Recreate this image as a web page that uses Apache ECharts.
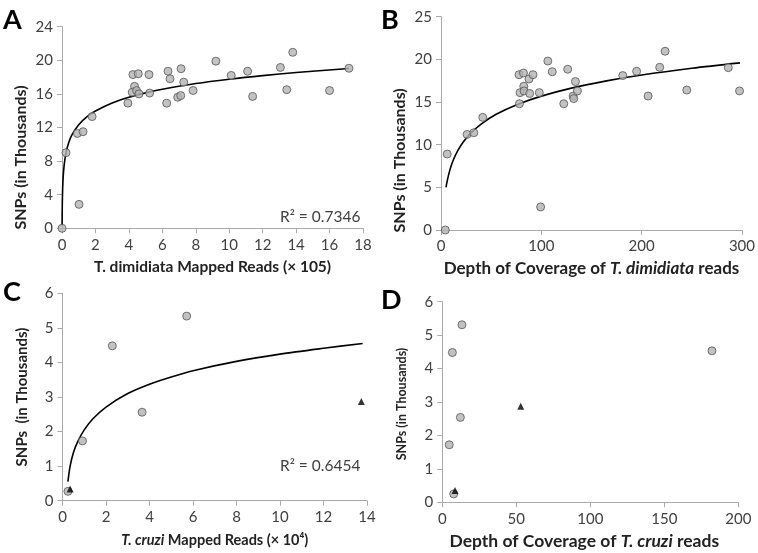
<!DOCTYPE html>
<html><head><meta charset="utf-8">
<script src="https://cdn.jsdelivr.net/npm/echarts@6/dist/echarts.min.js"></script>
<style>html,body{margin:0;padding:0;background:#fff}#c{width:758px;height:553px}</style>
</head><body><div id="c"></div>
<script>
// Panel A: T. dimidiata mapped reads (x10^5) vs SNPs (thousands)
const aReads = [0.005,0.24,0.92,1.26,1.02,1.8,3.94,4.24,4.56,4.34,4.2,4.46,4.6,5.2,5.24,6.26,6.34,6.46,7.12,6.92,7.1,7.28,7.84,9.2,10.12,11.1,11.4,13.06,13.8,13.44,16.0,17.16];
const aSnps  = [0,9.0,11.3,11.5,2.85,13.3,14.9,18.3,18.4,16.9,16.2,16.4,16.0,18.3,16.1,14.9,18.7,17.8,19.0,15.6,15.8,17.4,16.4,19.9,18.2,18.7,15.7,19.15,20.95,16.5,16.4,19.05];
// trendline
const aTrendX = [0.006,0.01,0.02,0.04,0.07,0.1,0.15,0.25,0.4,0.6,1,1.5,2,3,4,5,6,8,10,12,14,17.16];
const aTrendY = [0.32,1.52,3.15,4.78,6.09,6.93,7.88,9.08,10.19,11.14,12.34,13.29,13.97,14.92,15.6,16.12,16.55,17.23,17.75,18.18,18.54,19.02];
// Panel B: depth of coverage of T. dimidiata reads vs SNPs
const bDepth = [4.3,6.2,26,32.7,41.6,99.3,77.8,82.2,87.7,91.7,82.5,78.8,82.8,88.4,78.2,98,106.5,110.9,122.4,126.3,131.7,132.3,134,136,181.2,195,206.5,218,223.4,245,286.4,297.6];
const bSnps  = [0,8.9,11.2,11.4,13.2,2.7,18.2,18.4,17.7,18.2,16.85,16.1,16.3,16.0,14.8,16.1,19.8,18.55,14.8,18.84,15.7,15.4,17.4,16.3,18.1,18.6,15.7,19.07,20.95,16.4,19.03,16.3];
const bTrendX = [5,6,8,10,13,17,22,30,40,55,75,100,130,165,200,250,298];
const bTrendY = [5.0,5.65,6.67,7.47,8.41,9.36,10.29,11.39,12.42,13.56,14.66,15.69,16.63,17.48,18.17,18.96,19.59];
// Panel C: T. cruzi mapped reads (x10^4) vs SNPs
const cReadsCircle = [0.25,0.92,2.29,3.66,5.71];
const cSnpsCircle  = [0.27,1.73,4.48,2.56,5.34];
const cReadsTri = [0.35,13.74];
const cSnpsTri  = [0.34,2.87];
const cTrendX = [0.25,0.35,0.5,0.7,1,1.4,2,3,4,5,6,8,10,12,13.8];
const cTrendY = [0.55,1.0,1.39,1.71,2.05,2.37,2.71,3.1,3.37,3.58,3.76,4.03,4.24,4.41,4.55];
// Panel D: depth of coverage of T. cruzi reads vs SNPs
const dDepthCircle = [13.3,6.8,12.2,4.7,7.7,182.2];
const dSnpsCircle  = [5.31,4.48,2.54,1.72,0.25,4.53];
const dDepthTri = [8.6,53];
const dSnpsTri  = [0.35,2.87];
const r2A = 'R² = 0.7346', r2C = 'R² = 0.6454';

const zip = (xs, ys) => xs.map((x, i) => [x, ys[i]]);
const LBL = '#404040', AX = '#aaaaaa', FONT = 'Lato';
function xAx(grid, max, interval, name, nameGap, fs, shiftX) {
  return { type: 'value', gridIndex: grid, min: 0, max, interval,
    axisLine: { show: true, lineStyle: { color: AX } },
    axisTick: { show: true, length: 5, lineStyle: { color: AX } },
    splitLine: { show: false },
    axisLabel: { color: LBL, fontFamily: FONT, fontSize: 15, margin: 9 },
    name, nameLocation: 'middle', nameGap,
    nameTextStyle: { color: '#222', fontFamily: FONT, fontWeight: 'bold', fontSize: fs,
      padding: [0, shiftX > 0 ? shiftX * 2 : 0, 0, shiftX < 0 ? -shiftX * 2 : 0],
      rich: { i: { fontStyle: 'italic', fontWeight: 'bold', fontFamily: FONT, fontSize: fs, color: '#222' } } } };
}
function yAx(grid, max, interval, name, nameGap, fs, shift) {
  return { type: 'value', gridIndex: grid, min: 0, max, interval,
    axisLine: { show: true, lineStyle: { color: AX } },
    axisTick: { show: true, length: 5, lineStyle: { color: AX } },
    splitLine: { show: false },
    axisLabel: { color: LBL, fontFamily: FONT, fontSize: 15, margin: 9 },
    name, nameLocation: 'middle', nameGap, nameRotate: 90,
    nameTextStyle: { color: '#222', fontFamily: FONT, fontWeight: 'bold', fontSize: fs,
      padding: [0, shift * 2, 0, 0] } };
}
const circ = (xi, data) => ({ type: 'scatter', xAxisIndex: xi, yAxisIndex: xi, data, symbol: 'circle', symbolSize: 8,
  itemStyle: { color: '#b3b3b3', borderColor: '#555', borderWidth: 1 }, z: 3 });
const tri = (xi, data) => ({ type: 'scatter', xAxisIndex: xi, yAxisIndex: xi, data, symbol: 'triangle', symbolSize: 7,
  itemStyle: { color: '#000' }, z: 4 });
const trend = (xi, data) => ({ type: 'line', xAxisIndex: xi, yAxisIndex: xi, data, smooth: 0.3,
  showSymbol: false, symbol: 'none', lineStyle: { color: '#000', width: 1.6 }, z: 2 });

const letter = (t, x, y) => ({ type: 'text', left: x, top: y,
  style: { text: t, fontFamily: 'Lato', fontWeight: 'bold', fontSize: 27, fill: '#000' } });
const r2 = (t, x, y) => ({ type: 'text', left: x, top: y,
  style: { text: t, fontFamily: FONT, fontSize: 15.5, fill: LBL } });

const chart = echarts.init(document.getElementById('c'));
chart.setOption({
  animation: false,
  backgroundColor: '#fff',
  grid: [
    { left: 62, top: 26.7, width: 301, height: 201.6 },
    { left: 441, top: 16.7, width: 303, height: 213.3 },
    { left: 62.5, top: 293.3, width: 304.5, height: 207.4 },
    { left: 442.3, top: 301.7, width: 296, height: 200.6 }
  ],
  xAxis: [
    xAx(0, 18, 2, 'T. dimidiata Mapped Reads (× 105)', 31, 15.5, 0),
    xAx(1, 300, 100, 'Depth of Coverage of {i|T. dimidiata} reads', 30, 17, 0),
    xAx(2, 14, 2, '{i|T. cruzi} Mapped Reads (× 10⁴)', 32, 14.5, 0),
    xAx(3, 200, 50, 'Depth of Coverage of {i|T. cruzi} reads', 30, 17.5, 6)
  ],
  yAxis: [
    yAx(0, 24, 4, 'SNPs (in Thousands)', 33, 16, 30),
    yAx(1, 25, 5, 'SNPs (in Thousands)', 33, 16, 37),
    yAx(2, 6, 1, 'SNPs  (in Thousands)', 33, 15, 0),
    yAx(3, 6, 1, 'SNPs (in Thousands)', 34, 12.5, 2)
  ],
  series: [
    circ(0, zip(aReads, aSnps)),
    trend(0, zip(aTrendX, aTrendY)),
    circ(1, zip(bDepth, bSnps)),
    trend(1, zip(bTrendX, bTrendY)),
    circ(2, zip(cReadsCircle, cSnpsCircle)),
    tri(2, zip(cReadsTri, cSnpsTri)),
    trend(2, zip(cTrendX, cTrendY)),
    circ(3, zip(dDepthCircle, dSnpsCircle)),
    tri(3, zip(dDepthTri, dSnpsTri))
  ],
  graphic: [
    letter('A', 3, 7), letter('B', 381, 7), letter('C', 3, 279), letter('D', 381, 287),
    r2(r2A, 280, 209), r2(r2C, 280, 458)
  ]
});
</script></body></html>
